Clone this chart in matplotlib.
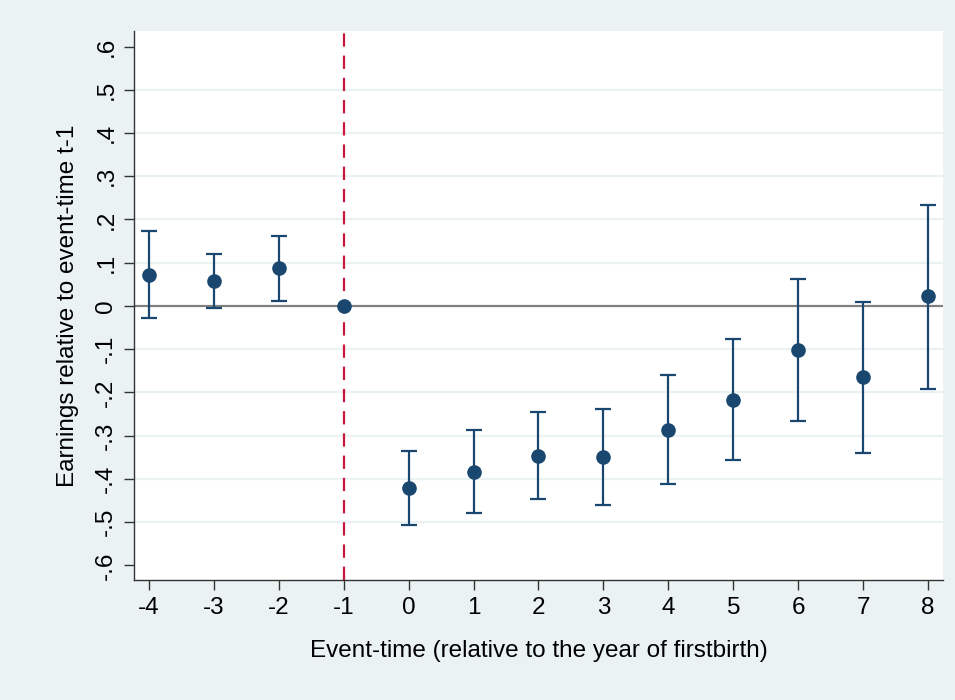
import matplotlib
matplotlib.use("Agg")
import matplotlib.pyplot as plt
import numpy as np

plt.rcParams['font.family'] = ['Liberation Sans', 'DejaVu Sans']
plt.rcParams['axes.unicode_minus'] = False

# event-study estimates with 95% CI bounds
event_time = [-4, -3, -2, -1, 0, 1, 2, 3, 4, 5, 6, 7, 8]
coef = [0.072, 0.058, 0.087, 0.0, -0.420, -0.383, -0.347, -0.350, -0.286, -0.218, -0.102, -0.165, 0.022]
ci_low = [-0.028, -0.004, 0.012, 0.0, -0.506, -0.479, -0.447, -0.461, -0.411, -0.357, -0.265, -0.340, -0.193]
ci_high = [0.174, 0.120, 0.161, 0.0, -0.336, -0.286, -0.245, -0.238, -0.160, -0.077, 0.062, 0.009, 0.234]

yticks = [-0.6, -0.5, -0.4, -0.3, -0.2, -0.1, 0, 0.1, 0.2, 0.3, 0.4, 0.5, 0.6]
ytick_labels = ['-.6', '-.5', '-.4', '-.3', '-.2', '-.1', '0', '.1', '.2', '.3', '.4', '.5', '.6']

BG = '#eaf2f3'
NAVY = '#1a476f'

fig = plt.figure(figsize=(9.55, 7.0), dpi=100, facecolor=BG)
ax = fig.add_axes([0.1403, 0.1714, 0.8471, 0.7843])
ax.set_facecolor('white')

coef = np.array(coef)
lo = np.array(ci_low)
hi = np.array(ci_high)

# light horizontal grid (skip outer ticks)
for y in yticks[1:-1]:
    if y != 0:
        ax.axhline(y, color=BG, lw=1.6, zorder=0)

ax.axhline(0, color='#808080', lw=1.6, zorder=1)
ax.axvline(-1, color='#c8193c', lw=1.6, ls=(0, (6, 4)), zorder=1)

has_ci = hi != lo
x = np.array(event_time)
ax.errorbar(x[has_ci], coef[has_ci],
            yerr=[coef[has_ci] - lo[has_ci], hi[has_ci] - coef[has_ci]],
            fmt='none', ecolor=NAVY, elinewidth=1.6, capsize=5.5, capthick=1.6, zorder=2)
ax.plot(x, coef, 'o', color=NAVY, markersize=9.5, zorder=3)

ax.set_xlim(-4.23, 8.23)
ax.set_ylim(-0.634, 0.636)
ax.set_xticks(event_time)
ax.set_yticks(yticks)
ax.set_yticklabels(ytick_labels, rotation=90, va='center')

for s in ['top', 'right']:
    ax.spines[s].set_visible(False)
for s in ['left', 'bottom']:
    ax.spines[s].set_color('#333333')
    ax.spines[s].set_linewidth(1.0)

ax.tick_params(axis='both', length=7, width=1.0, color='#333333', labelsize=17.5)
ax.tick_params(axis='x', pad=5)
ax.tick_params(axis='y', pad=5)

ax.set_xlabel('Event-time (relative to the year of firstbirth)', fontsize=17.5, labelpad=15)
ax.set_ylabel('Earnings relative to event-time t-1', fontsize=17.5, labelpad=12)

fig.savefig('out.png', dpi=100, facecolor=BG)
